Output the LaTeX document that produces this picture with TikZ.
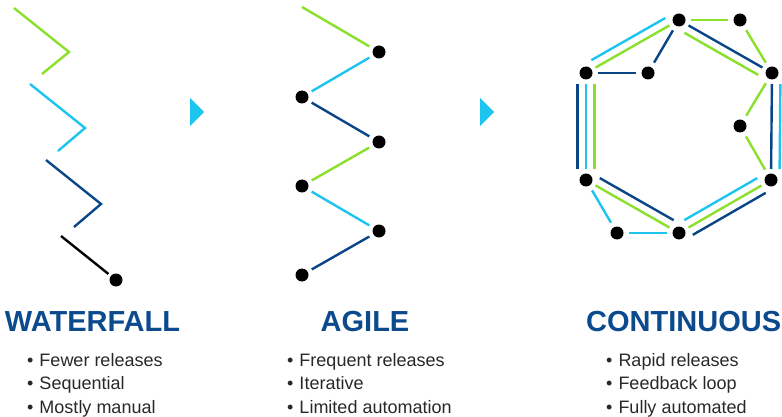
\documentclass[tikz,border=0pt]{standalone}
\usepackage{fontspec}
\setmainfont{Liberation Sans}
\usetikzlibrary{calc}
\definecolor{cgreen}{RGB}{139,224,43}
\definecolor{ccyan}{RGB}{29,196,240}
\definecolor{cblue}{RGB}{10,70,135}
\definecolor{chead}{RGB}{11,74,140}
\definecolor{ctext}{RGB}{40,40,40}
\tikzset{
  dot/.style={circle,fill=black,inner sep=0pt,minimum size=13pt},
  ln/.style={line width=2.4pt},
  agl/.style={ln,shorten <=4.5pt,shorten >=4.5pt},
  hexl/.style={ln,shorten <=11pt,shorten >=11pt},
  single/.style={ln,shorten <=12pt,shorten >=12pt},
  head/.style={text=chead,font=\fontsize{29}{31}\selectfont\bfseries,anchor=base,inner sep=0pt},
  bul/.style={text=ctext,font=\fontsize{18}{20}\selectfont,anchor=base west,inner sep=0pt},
  tri/.style={fill=ccyan}
}
\newcommand\hxout[3]{\draw[hexl,#3] ($(#1)!8.5pt!90:(#2)$) -- ($(#2)!8.5pt!-90:(#1)$);}
\newcommand\hxin[3]{\draw[hexl,#3] ($(#1)!8.5pt!-90:(#2)$) -- ($(#2)!8.5pt!90:(#1)$);}
\newcommand\hxmid[3]{\draw[hexl,#3] (#1.center) -- (#2.center);}
\begin{document}
\begin{tikzpicture}[x=1pt,y=-1pt]
\useasboundingbox (0,0) rectangle (782,417);
% ---------- Waterfall ----------
\coordinate (w1) at (14,8);   \coordinate (w2) at (69,52);  \coordinate (w3) at (42,74);
\coordinate (w4) at (30,84);  \coordinate (w5) at (85,128); \coordinate (w6) at (58,151);
\coordinate (w7) at (46,160); \coordinate (w8) at (101,204);\coordinate (w9) at (74,227);
\coordinate (w10) at (61,236);
\node[dot] (wd) at (116,280) {};
\draw[ln,cgreen] (w1) -- (w2) -- (w3);
\draw[ln,ccyan] (w4) -- (w5) -- (w6);
\draw[ln,cblue] (w7) -- (w8) -- (w9);
\draw[ln,black,shorten >=3pt] (w10) -- (wd);
% arrows
\fill[tri] (190,98) -- (204,112) -- (190,126) -- cycle;
\fill[tri] (480,98) -- (494,112) -- (480,126) -- cycle;
% ---------- Agile ----------
\coordinate (a0) at (302,7);
\node[dot] (a1) at (379,52) {};
\node[dot] (a2) at (302,97) {};
\node[dot] (a3) at (379,142) {};
\node[dot] (a4) at (302,186) {};
\node[dot] (a5) at (379,231) {};
\node[dot] (a6) at (302,275) {};
\draw[ln,cgreen,shorten >=4.5pt] (a0) -- (a1);
\draw[agl,ccyan] (a1) -- (a2);
\draw[agl,cblue] (a2) -- (a3);
\draw[agl,cgreen] (a3) -- (a4);
\draw[agl,ccyan] (a4) -- (a5);
\draw[agl,cblue] (a5) -- (a6);
% ---------- Continuous ----------
\node[dot] (T) at (679,20) {};
\node[dot] (TR) at (740,20) {};
\node[dot] (L) at (586,73) {};
\node[dot] (IL) at (648,73) {};
\node[dot] (R) at (772,73) {};
\node[dot] (IR) at (740,126) {};
\node[dot] (BL) at (586,180) {};
\node[dot] (BR) at (771,180) {};
\node[dot] (B) at (679,233) {};
\node[dot] (BIL) at (617,233) {};
% hexagon edges
\hxout{L}{T}{ccyan}  \hxmid{L}{T}{cgreen}
\hxmid{T}{R}{cblue}  \hxin{T}{R}{cgreen}
\hxmid{R}{BR}{cblue} \hxout{R}{BR}{ccyan}
\hxin{BR}{B}{ccyan}  \hxmid{BR}{B}{cgreen} \hxout{BR}{B}{cblue}
\hxin{B}{BL}{cblue}  \hxmid{B}{BL}{cgreen}
\hxout{BL}{L}{cblue} \hxmid{BL}{L}{ccyan}  \hxin{BL}{L}{cgreen}
% extra edges
\draw[single,cblue] (T.center) -- (IL.center);
\draw[single,cblue] (L.center) -- (IL.center);
\draw[single,cgreen] (T.center) -- (TR.center);
\draw[single,cgreen] (TR.center) -- (R.center);
\draw[single,cgreen] (R.center) -- (IR.center);
\draw[single,cgreen] (IR.center) -- (BR.center);
\draw[single,ccyan] (BL.center) -- (BIL.center);
\draw[single,ccyan] (BIL.center) -- (B.center);
% ---------- Texts ----------
\node[head] (h1) at (92.5,331) {WATERFALL};
\node[head] (h2) at (365,331) {AGILE};
\node[head,anchor=base west] (h3) at (586,331) {CONTINUOUS};
\node[bul] (b11) at (27,366) {•\,\,Fewer releases};
\node[bul] (b12) at (27,389.5) {•\,\,Sequential};
\node[bul] (b13) at (27,413) {•\,\,Mostly manual};
\node[bul] (b21) at (287,366) {•\,\,Frequent releases};
\node[bul] (b22) at (287,389.5) {•\,\,Iterative};
\node[bul] (b23) at (287,413) {•\,\,Limited automation};
\node[bul] (b31) at (606,366) {•\,\,Rapid releases};
\node[bul] (b32) at (606,389.5) {•\,\,Feedback loop};
\node[bul] (b33) at (606,413) {•\,\,Fully automated};
\end{tikzpicture}
\end{document}
